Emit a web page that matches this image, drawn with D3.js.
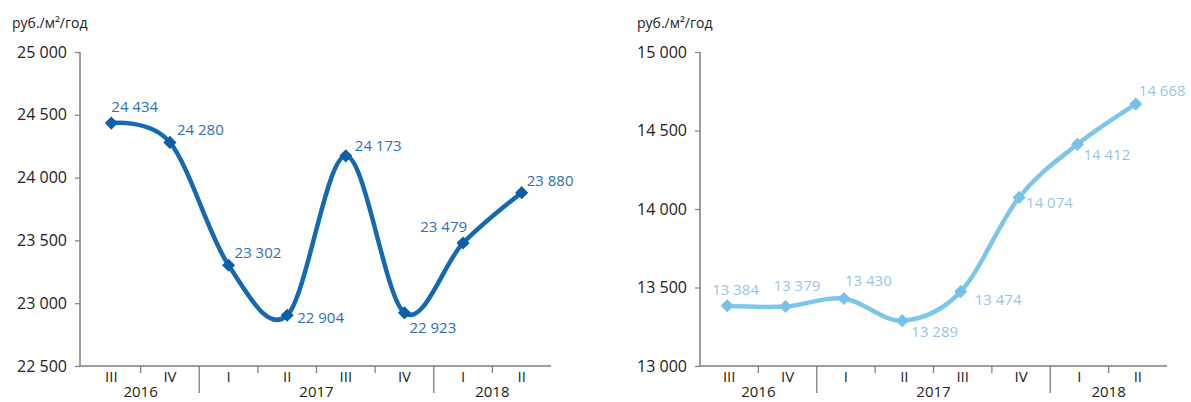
<!DOCTYPE html>
<html><head><meta charset="utf-8">
<script src="https://cdn.jsdelivr.net/npm/d3@7"></script>
<style>
html,body{margin:0;padding:0;background:#fff;}
svg{display:block;font-family:"Open Sans","Noto Sans",sans-serif;}
</style></head>
<body><svg id="c" width="1191" height="402"></svg>
<script>
// ---- data ----
const quarters = ["III","IV","I","II","III","IV","I","II"];
const years = ["2016","2017","2018"];
const yearSpans = [2,4,2];
const unitLabel = "руб./м²/год";
const seriesA = [24434,24280,23302,22904,24173,22923,23479,23880];
const seriesB = [13384,13379,13430,13289,13474,14074,14412,14668];
const ticksA = [22500,23000,23500,24000,24500,25000];
const ticksB = [13000,13500,14000,14500,15000];
// label offsets (styling)
const offsA = [[0,-11,"start"],[7,-7,"start"],[6,-7,"start"],[10,8,"start"],[9,-5,"start"],[5,20,"start"],[4,-11,"end"],[5,-7,"start"]];
const offsB = [[-15,-11,"start"],[-12,-15,"start"],[1,-12,"start"],[9,16,"start"],[14,13,"start"],[7,11,"start"],[6,16,"start"],[3,-8,"start"]];

const loc = d3.formatLocale({decimal:",",thousands:"\u00a0",grouping:[3],currency:["",""]});
const fmt = loc.format(",");
const svg = d3.select("#c");

function chart(o){
  const g = svg.append("g");
  const x = d3.scaleBand().domain(d3.range(quarters.length)).range(o.xr).paddingInner(0).paddingOuter(0);
  const y = d3.scaleLinear().domain(o.dom).range([366,52]);
  const axisCol = "#7f7f7f";
  // title
  g.append("text").attr("x",o.titleX).attr("y",28).attr("font-size",14).attr("fill","#222").text(unitLabel);
  // y axis
  const ya = g.append("g").attr("transform",`translate(${o.ax},0)`)
    .call(d3.axisLeft(y).tickValues(o.ticks).tickFormat(fmt).tickSize(5).tickPadding(8));
  ya.select(".domain").attr("stroke",axisCol).attr("stroke-width",1.5).attr("d",`M0,52V366`);
  ya.selectAll(".tick line").attr("stroke",axisCol).attr("stroke-width",1.2);
  ya.selectAll(".tick text").attr("font-size",16).attr("fill","#222").attr("font-family","Open Sans");
  // x axis
  g.append("line").attr("x1",o.ax).attr("x2",o.xr[1]).attr("y1",366).attr("y2",366).attr("stroke",axisCol).attr("stroke-width",1.5);
  const xa = g.append("g").attr("transform","translate(0,366)")
    .call(d3.axisBottom(x).tickSize(0).tickPadding(5).tickFormat(i=>quarters[i]));
  xa.select(".domain").remove();
  xa.selectAll(".tick text").attr("font-size",15).attr("fill","#222").attr("font-family","Open Sans");
  // separators
  const yearBounds = d3.cumsum(yearSpans);
  for(let i=1;i<quarters.length;i++){
    const bx = x(i);
    const long = yearBounds.includes(i);
    g.append("line").attr("x1",bx).attr("x2",bx).attr("y1",366).attr("y2",long?393:373)
      .attr("stroke",axisCol).attr("stroke-width",1.3);
  }
  // year labels
  let start=0;
  years.forEach((yr,k)=>{
    const a = x(start), b = x(start+yearSpans[k]-1)+x.bandwidth();
    g.append("text").attr("x",(a+b)/2).attr("y",397).attr("text-anchor","middle")
      .attr("font-size",15).attr("fill","#222").text(yr);
    start+=yearSpans[k];
  });
  // line
  const pts = o.data.map((v,i)=>[x(i)+x.bandwidth()/2+o.shift, y(v)]);
  g.append("path").datum(pts).attr("fill","none").attr("stroke",o.lineCol).attr("stroke-width",4.5)
    .attr("stroke-linecap","round")
    .attr("d",d3.line().curve(d3.curveCatmullRom.alpha(0)));
  // markers
  g.selectAll(".m").data(pts).join("path")
    .attr("transform",d=>`translate(${d[0]},${d[1]})`)
    .attr("d",d3.symbol(d3.symbolDiamond2,110)).attr("fill",o.markCol);
  // labels
  g.selectAll(".l").data(o.data).join("text")
    .attr("x",(d,i)=>pts[i][0]+o.offs[i][0]).attr("y",(d,i)=>pts[i][1]+o.offs[i][1])
    .attr("text-anchor",(d,i)=>o.offs[i][2])
    .attr("font-size",15).attr("fill",o.labCol).text(d=>fmt(d));
}

chart({xr:[82,551],ax:80,dom:[22500,25000],ticks:ticksA,data:seriesA,offs:offsA,titleX:12,
  lineCol:"#1469b0",markCol:"#0c5fa6",labCol:"#2f6fb5",shift:0});
chart({xr:[700,1167],ax:700,dom:[13000,15000],ticks:ticksB,data:seriesB,offs:offsB,titleX:637,
  lineCol:"#7dc5ea",markCol:"#78c0e8",labCol:"#9cc4e2",shift:-2});
</script></body></html>
